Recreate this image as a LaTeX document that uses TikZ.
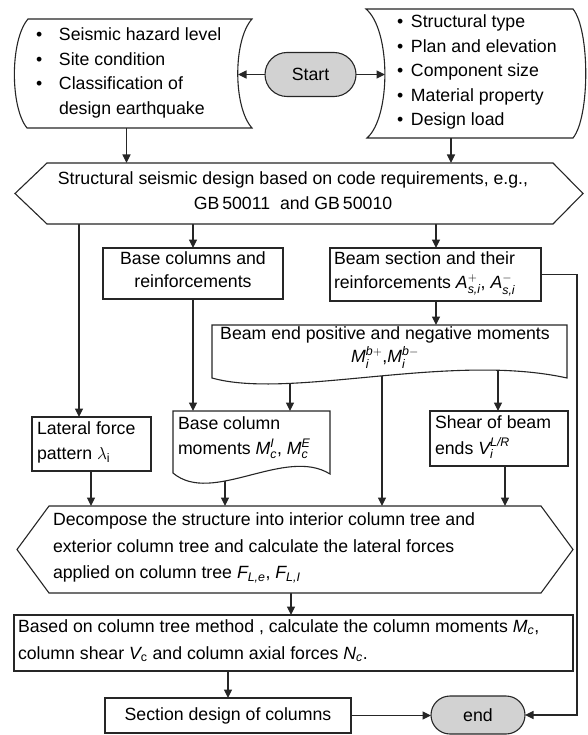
\documentclass[tikz,border=0pt]{standalone}
\usepackage{amsmath}
\usepackage{fontspec}
\setmainfont{Liberation Sans}
\usetikzlibrary{arrows.meta,shapes.misc}
\pgfdeclarelayer{bg}\pgfdeclarelayer{fg}\pgfsetlayers{bg,main,fg}
\newcommand{\mi}[1]{\textit{#1}}
\newcommand{\blt}[1]{\makebox[#1][l]{\textbullet}}
\begin{document}
\begin{tikzpicture}[x=1pt,y=-1pt,
  every node/.style={inner sep=0pt,outer sep=0pt},
  hold/.style={draw=none},
  txt/.style={font=\fontsize{17.7}{#1}\selectfont, align=left,
    execute at begin node=\strut, execute at end node=\strut},
  txt/.default=24.5,
  ctxt/.style={txt=#1, align=center},
  ctxt/.default=24.5,
  box/.style={draw=black!85, fill=white, line width=1.1pt},
  arr/.style={draw=black!85, line width=1.1pt, -{Triangle[length=8.5pt,width=8pt]}},
  term/.style={rounded rectangle, draw=black!85, fill=gray!35, line width=1.1pt,
    font=\fontsize{17.7}{24.5}\selectfont},
]
\useasboundingbox (0,0) rectangle (588,735);

% ---------- holders / boxes ----------
\node[hold, minimum width=223pt, minimum height=109pt] (L1) at (126.5,73.5) {};
\node[hold, minimum width=201pt, minimum height=129pt] (R1) at (485.5,73.5) {};
\node[term, minimum width=91pt, minimum height=44pt] (St) at (310.5,74.5) {Start};
\node[hold, minimum width=568pt, minimum height=61pt] (H1) at (299,193.5) {};
\node[box, minimum width=180pt, minimum height=51pt] (B1) at (193,273.5) {};
\node[box, minimum width=211pt, minimum height=53pt] (B2) at (435.5,274.5) {};
\node[hold, minimum width=355pt, minimum height=53pt] (B3) at (389.5,351.5) {};
\node[hold, minimum width=157pt, minimum height=62pt] (B4) at (251.5,442) {};
\node[box, minimum width=119pt, minimum height=54pt] (B5) at (91.5,444) {};
\node[box, minimum width=138pt, minimum height=55pt] (B6) at (499,438.5) {};
\node[hold, minimum width=556pt, minimum height=87pt] (H2) at (295,549.5) {};
\node[box, minimum width=559pt, minimum height=56pt] (B7) at (293.5,643) {};
\node[box, minimum width=246pt, minimum height=35pt] (B8) at (228,715.5) {};
\node[term, minimum width=94pt, minimum height=38pt] (En) at (478,715) {end};

% ---------- custom outlines ----------
\draw[box] (28,19) -- (252,19) .. controls (233,40) and (233,107) .. (252,128)
  -- (27,128) .. controls (10,107) and (10,40) .. (28,19) -- cycle;
\draw[box] (366,9) -- (573,9) .. controls (590,30) and (590,117) .. (573,138)
  -- (367,138) .. controls (391,117) and (391,30) .. (366,9) -- cycle;
\draw[box] (47,163) -- (553,163) -- (583,193.5) -- (553,224) -- (47,224) -- (15,193.5) -- cycle;
\draw[box] (212,325) -- (567,325) -- (567,378) .. controls (450,352) and (290,400) .. (212,378) -- cycle;
\draw[box] (173,411) -- (330,411) -- (330,474) .. controls (285,446) and (212,506) .. (173,473) -- cycle;
\draw[box] (49,506) -- (541,506) -- (573,549.5) -- (541,593) -- (49,593) -- (17,549.5) -- cycle;

% ---------- texts ----------
\begin{pgfonlayer}{fg}
\node[txt, anchor=west] (L1t) at (36,75) {\blt{23pt}Seismic hazard level\\\blt{23pt}Site condition\\\blt{23pt}Classification of\\\hspace*{23pt}design earthquake};
\node[txt, anchor=west] (R1t) at (397,74) {\blt{14pt}Structural type\\\blt{14pt}Plan and elevation\\\blt{14pt}Component size\\\blt{14pt}Material property\\\blt{14pt}Design load};
\node[ctxt=25] (H1t) at (293,194.5) {Structural seismic design based on code requirements, e.g.,\\GB\,50011\ \ and GB\,50010};
\node[ctxt=23] (B1t) at (193,273.5) {Base columns and\\reinforcements};
\node[txt=24, anchor=west] (B2t) at (334,274) {Beam section and their\\reinforcements $\mi{A}^{+}_{\mi{s,i}}$, $\mi{A}^{-}_{\mi{s,i}}$};
\node[ctxt=23] (B3t) at (385,348.5) {Beam end positive and negative moments\\$\mi{M}^{\mi{b}+}_{\mi{i}}$,$\mi{M}^{\mi{b}-}_{\mi{i}}$};
\node[txt=25, anchor=west] (B4t) at (178,439.5) {Base column\\moments $\mi{M}^{\mi{I}}_{\mi{c}}$, $\mi{M}^{\mi{E}}_{\mi{c}}$};
\node[txt=25, anchor=west] (B5t) at (37,444.5) {Lateral force\\pattern $\lambda_{\text{i}}$};
\node[txt=26, anchor=west] (B6t) at (435,439) {Shear of beam\\ends $\mi{V}^{\mi{L/R}}_{\mi{i}}$};
\node[txt=26.5, anchor=west] (H2t) at (53,550) {Decompose the structure into interior column tree and\\exterior column tree and calculate the lateral forces\\applied on column tree $\mi{F}_{\mi{L,e}}$, $\mi{F}_{\mi{L,I}}$};
\node[txt=27, anchor=west] (B7t) at (18,643.5) {Based on column tree method , calculate the column moments $\mi{M}_{\mi{c}}$,\\column shear $\mi{V}_{\text{c}}$ and column axial forces $\mi{N}_{\mi{c}}$.};
\node[ctxt] (B8t) at (228,715.5) {Section design of columns};
\end{pgfonlayer}

% ---------- connector x positions ----------
\coordinate (xa) at (79,0);
\coordinate (xb) at (193,0);
\coordinate (xc) at (436,0);
\coordinate (xd) at (91,0);
\coordinate (xe) at (225,0);
\coordinate (xf) at (290,0);
\coordinate (xg) at (382,0);
\coordinate (xh) at (498,0);
\coordinate (xi) at (505,0);
\coordinate (xj) at (291,0);
\coordinate (xk) at (228,0);
\coordinate (xl) at (451,0);
\coordinate (xm) at (577,0);

% ---------- connectors ----------
\begin{pgfonlayer}{bg}
\draw[arr] (St.west) -- (St.west -| L1.east);
\draw[arr] (St.east) -- (St.east -| R1.west);
\draw[arr] (L1.south) -- (L1.south |- H1.north);
\draw[arr] (R1.south -| xl) -- (H1.north -| xl);
\draw[arr] (H1.south -| xa) -- (B5.north -| xa);
\draw[arr] (H1.south -| xb) -- (B1.north -| xb);
\draw[arr] (H1.south -| xc) -- (B2.north -| xc);
\draw[arr] (B1.south -| xb) -- (B4.north -| xb);
\draw[arr] (B2.south -| xc) -- (B3.north -| xc);
\draw[arr] (B3.center -| xf) -- (B4.north -| xf);
\draw[arr] (B3.center -| xg) -- (H2.north -| xg);
\draw[arr] (B3.center -| xh) -- (B6.north -| xh);
\draw[arr] (B5.south -| xd) -- (H2.north -| xd);
\draw[arr] (B4.center -| xe) -- (H2.north -| xe);
\draw[arr] (B6.south -| xi) -- (H2.north -| xi);
\draw[arr] (H2.south -| xj) -- (B7.north -| xj);
\draw[arr] (B7.south -| xk) -- (B8.north -| xk);
\draw[arr] (B8.east) -- (B8.east -| En.west);
\draw[arr] (B2.east) -- (B2.east -| xm) -- (En.east -| xm) -- (En.east);
\end{pgfonlayer}
\end{tikzpicture}
\end{document}
